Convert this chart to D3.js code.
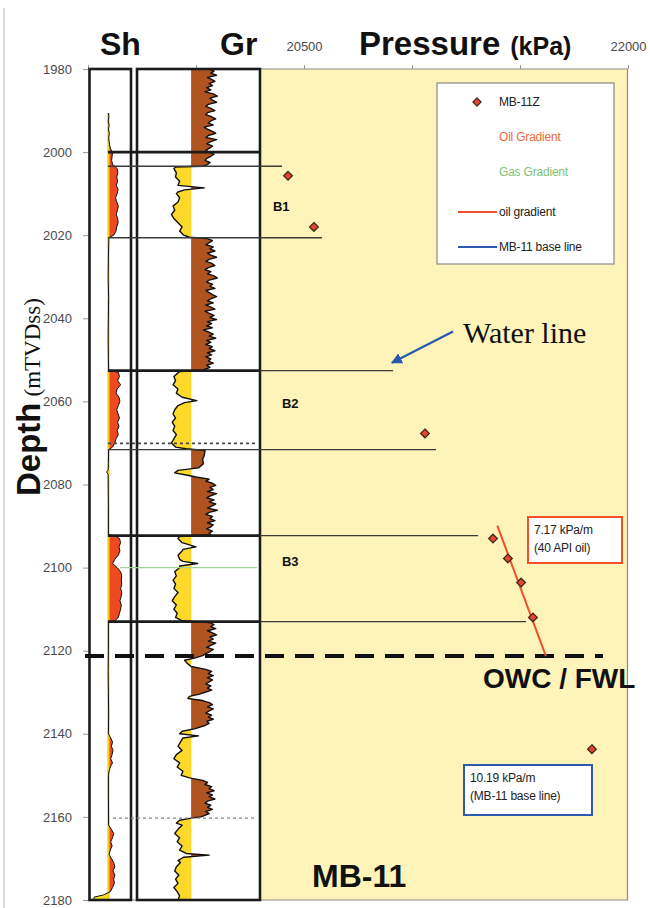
<!DOCTYPE html>
<html>
<head>
<meta charset="utf-8">
<script src="https://cdn.jsdelivr.net/npm/d3@7/dist/d3.min.js"></script>
<style>
  html, body { margin: 0; padding: 0; background: #fff; }
  svg { display: block; }
  text { font-family: "Liberation Sans", Arial, Helvetica, sans-serif; }
</style>
</head>
<body>
<svg id="chart" width="650" height="908"></svg>
<script>
// ---- depth / pressure axes ----
const depthTicks = [1980, 2000, 2020, 2040, 2060, 2080, 2100, 2120, 2140, 2160, 2180];
const pressureTicks = [19500, 20000, 20500, 21000, 21500, 22000];
const pressureTickLabels = { 20500: "20500", 22000: "22000" };

// ---- MB-11Z pressure measurements ----
const mbDepths    = [2005.7, 2018.0, 2067.7, 2093.0, 2097.8, 2103.6, 2112.0, 2143.7];
const mbPressures = [20426, 20546, 21060, 21375, 21444, 21505, 21560, 21833];

// ---- zone boundaries (depth) and the pressure each marker line reaches ----
const zoneDepths   = [2003.4, 2020.6, 2052.6, 2071.6, 2092.3, 2113.0];
const zoneLineEnds = [20398, 20583, 20912, 21111, 21306, 21528];
const trackBreaks  = [2000, 2052.6, 2092.3, 2113.0];
const zoneNames    = ["B1", "B2", "B3"];
const zoneLabelDepths    = [2012.9, 2060.5, 2098.3];
const zoneLabelPressures = [20356, 20398, 20398];

// ---- contacts ----
const owcDepth = 2121.3;
const owcPressure = 21620;
const oilGradient = 7.17;       // kPa/m, 40 API oil
const oilTopDepth = 2089.9;
const baseGradient = 10.19;     // kPa/m, MB-11 base line

// ---- gamma ray log (depth m, API) ----
const grLog = [
[1980,88],[1980.5,94],[1981,90],[1981.5,97],[1982,86],[1982.5,91],[1983,95],[1983.5,88],[1984,92],[1984.5,85],[1985,90],[1985.5,83],[1986,93],[1986.5,98],[1987,89],[1987.5,92],[1988,97],[1988.5,87],[1989,84],[1989.5,90],[1990,95],[1990.5,86],[1991,84],[1991.5,91],[1992,96],[1992.5,90],[1993,87],[1993.5,93],[1994,82],[1994.5,86],[1995,92],[1995.5,96],[1996,87],[1996.5,84],[1997,97],[1997.5,90],[1998,85],[1998.5,92],[1999,89],[1999.5,84],[2000,87],[2000.5,94],[2001,90],[2001.5,85],[2002,83],[2002.5,89],[2003,86],[2003.4,80],
[2003.6,47],[2004,45],[2005,48],[2006,47],[2007,52],[2008,50],[2008.6,82],[2009.1,58],[2009.6,50],[2010,48],[2011,52],[2012,50],[2013,44],[2014,46],[2015,42],[2016,45],[2017,50],[2018,55],[2019,52],[2020,57],[2020.5,64],
[2020.8,86],[2021.3,92],[2021.8,88],[2022.3,84],[2022.8,93],[2023.3,89],[2023.8,95],[2024.3,86],[2024.8,90],[2025.3,97],[2025.8,88],[2026.3,84],[2026.8,91],[2027.3,95],[2027.8,87],[2028.3,83],[2028.8,90],[2029.3,86],[2029.8,94],[2030.3,98],[2030.8,88],[2031.3,85],[2031.8,92],[2032.3,89],[2032.8,95],[2033.3,84],[2033.8,88],[2034.3,92],[2034.8,97],[2035.3,90],[2035.8,86],[2036.3,93],[2036.8,84],[2037.3,90],[2037.8,95],[2038.3,83],[2038.8,88],[2039.3,94],[2039.8,89],[2040.3,97],[2040.8,86],[2041.3,91],[2041.8,85],[2042.3,92],[2042.8,81],[2043.3,87],[2043.8,93],[2044.3,88],[2044.8,96],[2045.3,85],[2045.8,90],[2046.3,84],[2046.8,92],[2047.3,88],[2047.8,95],[2048.3,86],[2048.8,91],[2049.3,84],[2049.8,90],[2050.3,87],[2050.8,93],[2051.3,85],[2051.8,89],[2052.2,84],[2052.5,80],
[2052.8,52],[2053.5,48],[2054,45],[2055,47],[2056,44],[2057,50],[2058,48],[2059,55],[2059.8,73],[2060.3,58],[2061,50],[2062,46],[2063,44],[2064,47],[2065,43],[2066,46],[2067,44],[2068,48],[2069,45],[2070,42],[2071,47],[2071.4,60],
[2071.8,83],[2073,82],[2074,80],[2075,81],[2076,75],[2076.6,50],[2077.2,46],[2077.7,60],[2078.2,72],
[2078.7,88],[2079.2,84],[2079.7,92],[2080.2,96],[2080.7,89],[2081.2,93],[2081.7,86],[2082.2,97],[2082.7,90],[2083.2,85],[2083.7,94],[2084.2,88],[2084.7,96],[2085.2,91],[2085.7,86],[2086.2,98],[2086.7,88],[2087.2,84],[2087.7,92],[2088.2,89],[2088.7,95],[2089.2,86],[2089.7,93],[2090.2,90],[2090.7,85],[2091.2,92],[2091.7,88],[2092.1,90],
[2092.5,52],[2093,50],[2094,55],[2095,72],[2095.6,56],[2096,55],[2097,50],[2098,52],[2098.5,56],[2099,74],[2099.6,52],[2100,52],[2101,46],[2102,48],[2103,44],[2104,47],[2105,45],[2106,50],[2107,46],[2108,43],[2109,48],[2110,45],[2111,49],[2112,47],[2112.8,55],
[2113.2,88],[2113.7,94],[2114.2,90],[2114.7,96],[2115.2,86],[2115.7,92],[2116.2,97],[2116.7,89],[2117.2,93],[2117.7,87],[2118.2,96],[2118.7,90],[2119.2,85],[2119.7,93],[2120.2,89],[2120.7,84],[2121.2,80],
[2121.8,70],[2122.3,58],[2123,61],[2123.8,66],
[2124.5,84],[2125,91],[2125.5,87],[2126,93],[2126.5,86],[2127,92],[2127.5,88],[2128,84],[2128.5,90],[2129,86],[2129.5,91],[2130,83],[2130.5,75],[2131,64],[2131.5,62],
[2132,80],[2132.5,88],[2133,92],[2133.5,86],[2134,93],[2134.5,88],[2135,84],[2135.5,91],[2136,87],[2136.5,93],[2137,85],[2137.5,88],[2138,83],[2138.8,70],
[2139.4,55],[2140,52],[2140.5,75],[2141,56],[2142,53],[2143,50],[2144,55],[2145,48],[2146,45],[2147,52],[2148,49],[2149,56],[2150,54],[2150.6,64],
[2151.2,80],[2151.7,86],[2152.2,83],[2152.7,91],[2153.2,88],[2153.7,94],[2154.2,85],[2154.7,92],[2155.2,88],[2155.7,95],[2156.2,86],[2156.7,83],[2157.2,90],[2157.7,86],[2158.2,92],[2158.7,84],[2159.2,88],[2159.7,82],[2160,78],[2160.3,66],
[2160.8,52],[2161.5,48],[2162,55],[2163,50],[2164,46],[2165,52],[2166,49],[2167,55],[2168,52],[2168.8,60],[2169.2,88],[2169.7,57],[2170.5,50],[2171,53],[2172,48],[2173,46],[2174,51],[2175,47],[2176,50],[2177,45],[2178,49],[2179,52],[2180,50]];
const grCutoff = 66;

// ---- hydrocarbon saturation log (depth m, fraction) ----
const shLog = [[1990.6,0.02],[1991.5,0.04],[1992.5,0.01],[1993.5,0.05],[1994.5,0.02],[1995.5,0.06],[1996.5,0.03],[1997.5,0.05],[1998.5,0.08],[1999.3,0.12],[2000,0.2],[2001,0.18],[2002,0.16],[2003,0.2],[2003.5,0.32],[2004,0.4],[2005,0.43],[2006,0.38],[2007,0.42],[2008,0.36],[2009,0.44],[2010,0.4],[2011,0.33],[2012,0.38],[2013,0.45],[2014,0.41],[2015,0.36],[2016,0.42],[2017,0.44],[2018,0.38],[2019,0.35],[2020,0.25],[2020.6,0.04],[2025,0.02],[2030,0.01],[2035,0.03],[2040,0.02],[2045,0.01],[2050,0.02],[2052.4,0.03],
[2052.8,0.3],[2053,0.45],[2054,0.5],[2055,0.42],[2056,0.55],[2057,0.4],[2058,0.35],[2059,0.48],[2060,0.52],[2061,0.45],[2062,0.38],[2063,0.44],[2064,0.5],[2065,0.42],[2066,0.48],[2067,0.4],[2068,0.45],[2069,0.35],[2070,0.3],[2071,0.2],[2071.6,0.03],[2075,0.02],[2076.5,0.01],[2077,-0.06],[2077.6,0.01],[2085,0.02],[2092,0.02],
[2092.5,0.35],[2093,0.5],[2094,0.55],[2095,0.48],[2096,0.52],[2097,0.45],[2098,0.3],[2099,0.2],[2100,0.4],[2101,0.55],[2102,0.6],[2103,0.58],[2104,0.6],[2105,0.55],[2106,0.6],[2107,0.57],[2108,0.52],[2109,0.58],[2110,0.55],[2111,0.5],[2112,0.45],[2112.8,0.3],[2113.2,0.02],[2120,0.02],[2125,0.01],[2130,0.02],[2135,0.03],[2140,0.02],
[2141,0.12],[2142,0.2],[2143,0.15],[2144,0.22],[2145,0.18],[2146,0.12],[2147,0.2],[2148,0.1],[2149,0.05],[2150,0.02],[2155,0.02],[2162,0.03],
[2163,0.15],[2164,0.25],[2165,0.2],[2166,0.12],[2167,0.18],[2168,0.1],[2169,0.05],[2170,0.15],[2171,0.25],[2172,0.3],[2173,0.22],[2174,0.3],[2175,0.25],[2176,0.28],[2177,0.2],[2178,0.1],[2178.8,-0.2],[2179.3,-0.6],[2180,-0.62]];

// ---- legend entries ----
const legendLabels = ["MB-11Z", "Oil Gradient", "Gas Gradient", "oil gradient", "MB-11 base line"];
const legendKinds  = ["marker", "text", "text", "line", "line"];
const legendColors = ["#222", "#f26a3a", "#7dc46e", "#222", "#222"];
const legendLineColors = [null, null, null, "#f0502a", "#2b5bb0"];

// ---------------------------------------------------------------
const svg = d3.select("#chart");
const W = 650, H = 908;
const plot = { left: 88, right: 628, top: 69, bottom: 900 };

const y = d3.scaleLinear().domain([1980, 2180]).range([plot.top, plot.bottom]);
const x = d3.scaleLinear().domain([19500, 22000]).range([plot.left, plot.right]);

// log tracks
const shTrack = { left: 89.5, right: 131 };
const grTrack = { left: 137, right: 260 };
const xSh = d3.scaleLinear().domain([-0.8, 1]).range([shTrack.left, shTrack.right]);
const xGr = d3.scaleLinear().domain([0, 150]).range([grTrack.left, grTrack.right]);

svg.append("rect").attr("width", W).attr("height", H).attr("fill", "#fff");
svg.append("line").attr("x1", 4).attr("x2", 4).attr("y1", 8).attr("y2", H)
  .attr("stroke", "#b5b5b5").attr("stroke-width", 1);

// pressure panel background
svg.append("rect")
  .attr("x", grTrack.right + 1.5).attr("y", plot.top)
  .attr("width", plot.right - grTrack.right - 1.5).attr("height", plot.bottom - plot.top)
  .attr("fill", "#fef4b9");
svg.append("path")
  .attr("d", `M${grTrack.right},${plot.top}H${plot.right - 0.5}V${plot.bottom}H${plot.left}`)
  .attr("fill", "none").attr("stroke", "#8a8a8a").attr("stroke-width", 1.2);

// axes
const gy = svg.append("g").attr("transform", `translate(${plot.left},0)`)
  .call(d3.axisLeft(y).tickValues(depthTicks).tickSize(5).tickPadding(11).tickFormat(d3.format("d")));
gy.select(".domain").remove();
gy.selectAll(".tick line").attr("stroke", "#999");
gy.selectAll(".tick text").attr("fill", "#4a4a4a").style("font-size", "13px")
  .style("font-family", "'Liberation Sans', Arial, sans-serif");

const gx = svg.append("g").attr("transform", `translate(0,${plot.top})`)
  .call(d3.axisTop(x).tickValues(pressureTicks).tickSize(4).tickPadding(14)
    .tickFormat(d => pressureTickLabels[d] || ""));
gx.select(".domain").remove();
gx.selectAll(".tick line").attr("stroke", "#999");
gx.selectAll(".tick text").attr("fill", "#4a4a4a").style("font-size", "13px")
  .style("font-family", "'Liberation Sans', Arial, sans-serif");

// titles
svg.append("text").attr("x", 100).attr("y", 55).attr("font-size", 32).attr("font-weight", "bold")
  .attr("fill", "#111").text("Sh");
svg.append("text").attr("x", 220).attr("y", 55).attr("font-size", 32).attr("font-weight", "bold")
  .attr("fill", "#111").text("Gr");
const pt = svg.append("text").attr("x", 359).attr("y", 55).attr("fill", "#111").attr("font-weight", "bold");
pt.append("tspan").attr("font-size", 33).text("Pressure");
pt.append("tspan").attr("font-size", 25).attr("dx", 10).text("(kPa)");

const yt = svg.append("text").attr("transform", "translate(40,496) rotate(-90)").attr("fill", "#111");
yt.append("tspan").attr("font-size", 33).attr("font-weight", "bold").text("Depth");
yt.append("tspan").attr("font-size", 23).attr("dx", 6)
  .style("font-family", "'Liberation Serif', 'Times New Roman', serif").text("(mTVDss)");

// legend
const lg = svg.append("g");
lg.append("rect").attr("x", 437).attr("y", 83).attr("width", 177).attr("height", 181)
  .attr("fill", "#fff").attr("stroke", "#8a8a8a").attr("stroke-width", 1.2);
const legendY = [102, 137, 172, 212, 247];
legendLabels.forEach((lab, i) => {
  const ly = legendY[i];
  if (legendKinds[i] === "marker") {
    lg.append("path").attr("d", d3.symbol(d3.symbolDiamond2, 42)())
      .attr("transform", `translate(477,${ly})`)
      .attr("fill", "#e8452a").attr("stroke", "#3a2a20").attr("stroke-width", 1.2);
  } else if (legendKinds[i] === "line") {
    lg.append("line").attr("x1", 458).attr("x2", 497).attr("y1", ly).attr("y2", ly)
      .attr("stroke", legendLineColors[i]).attr("stroke-width", 2);
  }
  lg.append("text").attr("x", 499).attr("y", ly + 4).attr("font-size", 12)
    .attr("fill", legendColors[i]).attr("letter-spacing", -0.2).text(lab);
});

// ---- log tracks ----
const clipId = (n) => `clip-${n}`;
const defs = svg.append("defs");
function clipRect(id, x0, x1) {
  defs.append("clipPath").attr("id", id).append("rect")
    .attr("x", x0).attr("y", plot.top).attr("width", x1 - x0).attr("height", plot.bottom - plot.top);
}
const grCutX = xGr(grCutoff);
clipRect(clipId("gr-hi"), grCutX, grTrack.right);
clipRect(clipId("gr-lo"), grTrack.left, grCutX);
const shZero = xSh(0);
clipRect(clipId("sh-hi"), shZero, shTrack.right);
clipRect(clipId("sh-lo"), shTrack.left, shZero);

const grArea = d3.area().y(d => y(d[0])).x0(grCutX).x1(d => xGr(d[1]));
const grLine = d3.line().y(d => y(d[0])).x(d => xGr(d[1]));
svg.append("path").datum(grLog).attr("d", grArea).attr("fill", "#b0541f")
  .attr("clip-path", `url(#${clipId("gr-hi")})`);
svg.append("path").datum(grLog).attr("d", grArea).attr("fill", "#ffd92a")
  .attr("clip-path", `url(#${clipId("gr-lo")})`);
svg.append("path").datum(grLog).attr("d", grLine).attr("fill", "none")
  .attr("stroke", "#111").attr("stroke-width", 1.4).attr("stroke-linejoin", "round");

const shArea = d3.area().y(d => y(d[0])).x0(shZero).x1(d => xSh(d[1]));
const shLine = d3.line().y(d => y(d[0])).x(d => xSh(d[1]));
svg.append("path").datum(shLog).attr("d", shArea).attr("fill", "#ee4a22")
  .attr("clip-path", `url(#${clipId("sh-hi")})`);
svg.append("path").datum(shLog).attr("d", shArea).attr("fill", "#ffd92a")
  .attr("clip-path", `url(#${clipId("sh-lo")})`);
svg.append("line").attr("x1", shZero + 0.5).attr("x2", shZero + 0.5)
  .attr("y1", y(shLog[0][0])).attr("y2", y(2180))
  .attr("stroke", "#f5cf14").attr("stroke-width", 2.2);
svg.append("path").datum(shLog).attr("d", shLine).attr("fill", "none")
  .attr("stroke", "#111").attr("stroke-width", 1).attr("stroke-linejoin", "round");

// track frames
[shTrack, grTrack].forEach(t => {
  svg.append("rect").attr("x", t.left).attr("y", plot.top)
    .attr("width", t.right - t.left).attr("height", plot.bottom - plot.top)
    .attr("fill", "none").attr("stroke", "#1b1b1b").attr("stroke-width", 2.6);
});

// dotted / green markers inside the tracks
svg.append("line").attr("x1", shZero).attr("x2", grTrack.right - 3)
  .attr("y1", y(2070.1)).attr("y2", y(2070.1))
  .attr("stroke", "#444").attr("stroke-width", 1.6).attr("stroke-dasharray", "3,3");
svg.append("line").attr("x1", 120).attr("x2", grTrack.right - 3)
  .attr("y1", y(2100)).attr("y2", y(2100))
  .attr("stroke", "#a3d59b").attr("stroke-width", 1.4);
svg.append("line").attr("x1", 113).attr("x2", grTrack.right - 3)
  .attr("y1", y(2160.3)).attr("y2", y(2160.3))
  .attr("stroke", "#888").attr("stroke-width", 1.4).attr("stroke-dasharray", "3,3");

// zone lines
zoneDepths.forEach((d, i) => {
  svg.append("line").attr("x1", shZero).attr("x2", x(zoneLineEnds[i]))
    .attr("y1", y(d)).attr("y2", y(d))
    .attr("stroke", "#3a3a3a").attr("stroke-width", 1.4);
});
trackBreaks.forEach(d => {
  svg.append("line").attr("x1", shZero).attr("x2", grTrack.right)
    .attr("y1", y(d)).attr("y2", y(d))
    .attr("stroke", "#1b1b1b").attr("stroke-width", 2.6);
});
zoneNames.forEach((n, i) => {
  svg.append("text").attr("x", x(zoneLabelPressures[i])).attr("y", y(zoneLabelDepths[i]) + 5)
    .attr("font-size", 13).attr("font-weight", "bold").attr("fill", "#111").text(n);
});

// OWC / FWL
svg.append("line").attr("x1", 85).attr("x2", 603)
  .attr("y1", y(owcDepth)).attr("y2", y(owcDepth))
  .attr("stroke", "#111").attr("stroke-width", 4).attr("stroke-dasharray", "19,11");
svg.append("text").attr("x", 483).attr("y", 688).attr("font-size", 28).attr("font-weight", "bold")
  .attr("fill", "#111").text("OWC / FWL");

// oil gradient through the contact
const oilLine = [oilTopDepth, owcDepth].map(d => [d, owcPressure - oilGradient * (owcDepth - d)]);
svg.append("path").datum(oilLine)
  .attr("d", d3.line().x(d => x(d[1])).y(d => y(d[0])))
  .attr("stroke", "#f0502a").attr("stroke-width", 2).attr("fill", "none");

// measured pressures
svg.selectAll("path.mb").data(mbDepths.map((d, i) => [d, mbPressures[i]])).join("path")
  .attr("class", "mb")
  .attr("d", d3.symbol(d3.symbolDiamond2, 48)())
  .attr("transform", d => `translate(${x(d[1])},${y(d[0])})`)
  .attr("fill", "#e8452a").attr("stroke", "#3a2a20").attr("stroke-width", 1.3);

// gradient annotations
function noteBox(x0, y0, w, h, color, lines) {
  svg.append("rect").attr("x", x0).attr("y", y0).attr("width", w).attr("height", h)
    .attr("fill", "#fff").attr("stroke", color).attr("stroke-width", 2);
  lines.forEach((t, i) => {
    svg.append("text").attr("x", x0 + 6).attr("y", y0 + 17 + i * 18)
      .attr("font-size", 12).attr("fill", "#222").attr("letter-spacing", -0.2).text(t);
  });
}
noteBox(528, 517, 94, 46, "#f0502a", [`${oilGradient} kPa/m`, "(40 API oil)"]);
noteBox(464, 765, 128, 50, "#2b5bb0", [`${baseGradient} kPa/m`, "(MB-11 base line)"]);

// water line callout
defs.append("marker").attr("id", "arrowhead").attr("viewBox", "0 0 10 10")
  .attr("refX", 9).attr("refY", 5).attr("markerWidth", 5).attr("markerHeight", 5)
  .attr("orient", "auto").attr("markerUnits", "strokeWidth")
  .append("path").attr("d", "M0,0L10,5L0,10z").attr("fill", "#2a58b0");
svg.append("line")
  .attr("x1", x(21190)).attr("y1", y(2043.2))
  .attr("x2", x(20907)).attr("y2", y(2050.7))
  .attr("stroke", "#2a58b0").attr("stroke-width", 2.2).attr("marker-end", "url(#arrowhead)");
svg.append("text").attr("x", 463).attr("y", 343).attr("font-size", 30)
  .style("font-family", "'Liberation Serif', 'Times New Roman', serif")
  .attr("fill", "#111").text("Water line");

// well name
svg.append("text").attr("x", 312).attr("y", 887).attr("font-size", 32).attr("font-weight", "bold")
  .attr("fill", "#111").text("MB-11");
</script>
</body>
</html>
